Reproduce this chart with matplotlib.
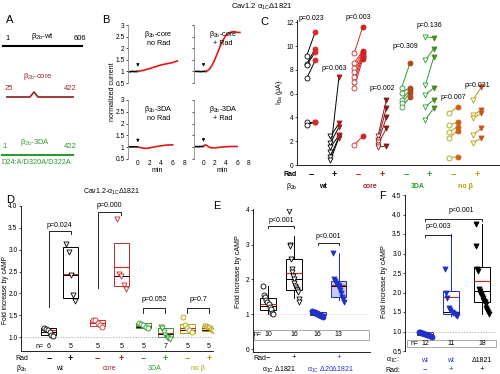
import numpy as np
import matplotlib
matplotlib.use("Agg")
import matplotlib.pyplot as plt
import matplotlib.transforms as mtransforms
from matplotlib.patches import Rectangle

plt.rcParams['font.family'] = ['Liberation Sans', 'DejaVu Sans']
plt.rcParams['mathtext.fontset'] = 'custom'
plt.rcParams['mathtext.rm'] = 'Liberation Sans'
plt.rcParams['mathtext.it'] = 'Liberation Sans'
plt.rcParams['font.size'] = 5
plt.rcParams['axes.linewidth'] = 0.6
plt.rcParams['xtick.major.width'] = 0.5
plt.rcParams['ytick.major.width'] = 0.5
plt.rcParams['xtick.major.size'] = 1.5
plt.rcParams['ytick.major.size'] = 1.5
plt.rcParams['xtick.labelsize'] = 4.8
plt.rcParams['ytick.labelsize'] = 4.8

W, H = 500, 374
B2 = r"$\beta_{2b}$"
MS = 13

# ---------------- data ----------------
# B: normalized current traces (min, normalized I)
b_titles = [B2 + "-core\nno Rad", B2 + "-core\n+ Rad", B2 + "-3DA\nno Rad", B2 + "-3DA\n+ Rad"]
b_base_t = [[-1.5, -1, -0.5, 0], [-1.5, -1, -0.5, 0, 0.5], [-1.5, -1, -0.5, 0], [-1.5, -1, -0.5, 0]]
b_base_i = [[0.98, 1.0, 0.99, 1.0], [1.0, 1.0, 0.99, 1.0, 1.0], [1.02, 1.01, 1.02, 1.01], [1.03, 1.02, 1.03, 1.03]]
b_red_t = [[0, 1, 2, 3, 4, 5, 6, 6.8],
           [0.5, 1, 1.5, 2, 2.5, 3, 3.5, 4, 4.5, 5, 5.5, 6, 6.5],
           [0, 0.5, 1, 1.5, 2, 3, 4, 5, 6],
           [0, 0.3, 0.6, 1, 1.5, 2, 3, 4, 5, 6]]
b_red_i = [[1.0, 1.05, 1.12, 1.2, 1.28, 1.33, 1.38, 1.45],
           [1.0, 1.08, 1.25, 1.5, 1.8, 2.1, 2.35, 2.55, 2.65, 2.7, 2.72, 2.68, 2.68],
           [1.01, 0.98, 0.96, 0.95, 0.97, 1.02, 1.06, 1.09, 1.1],
           [1.05, 1.1, 1.07, 1.0, 0.97, 0.97, 1.0, 1.02, 1.03, 1.03]]

# C: I_Ba before (open) and after (filled) for each group
c_before = [[9.2, 8.5, 8.4, 7.3, 3.6, 3.4],
            [1.1, 2.4, 1.85, 1.5, 0.7, 0.4],
            [9.4, 8.6, 8.2, 7.8, 7.4, 7.0, 6.5, 1.7],
            [2.4, 2.1, 1.9, 1.7, 1.5],
            [6.5, 6.1, 5.5, 5.2, 4.9],
            [10.8, 8.8, 6.7, 5.9, 4.9, 3.8],
            [4.35, 3.35, 2.8, 2.25, 0.6],
            [5.45, 4.2, 3.95, 2.5, 1.85]]
c_after = [[11.2, 9.8, 9.5, 8.8, 3.6, 3.6],
           [7.4, 3.5, 3.2, 2.5, 2.4, 2.3],
           [11.6, 9.6, 9.5, 9.3, 9.2, 9.1, 8.9, 2.4],
           [5.5, 4.8, 4.0, 3.1, 1.6],
           [8.6, 6.5, 6.3, 6.1, 5.7],
           [10.7, 9.8, 9.1, 6.5, 5.5, 4.8],
           [4.9, 3.6, 3.2, 2.9, 0.7],
           [6.55, 4.6, 4.35, 3.1, 2.25]]
c_pvals = ["p=0.023", "p=0.063", "p=0.003", "p=0.002", "p=0.309", "p=0.136", "p=0.007", "p=0.031"]
c_rad = ["\u2212", "+", "\u2212", "+", "\u2212", "+", "\u2212", "+"]
c_beta = ["wt", "core", "3DA", "no \u03b2"]

# D: fold increase by cAMP, Cav1.2-a1C d1821
d_pts = [[1.2, 1.19, 1.17, 1.12, 1.05, 1.02],
         [3.12, 2.95, 2.42, 1.96, 1.82],
         [1.4, 1.39, 1.33, 1.27, 1.24],
         [3.7, 2.45, 2.4, 2.2, 2.1],
         [1.33, 1.3, 1.27, 1.22, 1.2],
         [1.22, 1.2, 1.12, 1.05, 1.0, 0.97, 0.95],
         [1.45, 1.28, 1.2, 1.15, 1.12],
         [1.25, 1.22, 1.2, 1.16, 1.13]]
d_q1 = [1.05, 1.9, 1.25, 2.17, 1.2, 1.0, 1.1, 1.13]
d_med = [1.12, 2.42, 1.32, 2.4, 1.22, 1.08, 1.17, 1.17]
d_mean = [1.15, 2.45, 1.33, 2.6, 1.26, 1.1, 1.2, 1.2]
d_q3 = [1.2, 3.05, 1.38, 3.15, 1.33, 1.2, 1.3, 1.25]
d_n = ["6", "5", "5", "5", "5", "7", "5", "5"]
d_pvals = ["p=0.024", "p=0.000", "p=0.052", "p=0.7"]

# E
e_pts = [[1.82, 1.55, 1.5, 1.42, 1.35, 1.3, 1.2, 1.15, 1.05, 1.0],
         [3.95, 3.0, 2.95, 2.6, 2.3, 2.2, 2.1, 2.0, 1.9, 1.8, 1.75, 1.7, 1.7, 1.65, 1.45, 1.35],
         [1.1, 1.08, 1.07, 1.06, 1.05, 1.04, 1.03, 1.02, 1.01, 1.0, 0.99, 0.98, 0.97, 0.96, 0.95, 0.93],
         [2.75, 2.0, 1.95, 1.9, 1.88, 1.85, 1.8, 1.75, 1.7, 1.6, 1.5, 1.45, 1.35]]
e_q1 = [1.11, 1.69, 0.98, 1.5]
e_med = [1.25, 2.0, 1.02, 1.8]
e_mean = [1.3, 2.18, 1.02, 1.85]
e_q3 = [1.46, 2.6, 1.06, 1.97]
e_wlo = [1.0, 1.46, 0.93, 1.4]
e_whi = [1.82, 3.26, 1.1, 2.75]
e_n = ["10", "16", "16", "13"]

# F
f_pts = [[1.0, 0.98, 0.97, 0.96, 0.95, 0.94, 0.93, 0.92, 0.91, 0.9, 0.88, 0.86],
         [2.6, 2.0, 1.85, 1.6, 1.55, 1.5, 1.48, 1.45, 1.42, 1.4],
         [3.75, 3.2, 2.6, 2.55, 2.1, 2.05, 2.0, 1.95, 1.9, 1.85, 1.8, 1.78, 1.75, 1.7, 1.6, 1.55, 1.5, 1.45]]
f_q1 = [0.9, 1.45, 1.75]
f_med = [0.94, 1.5, 2.05]
f_mean = [0.94, 1.88, 2.3]
f_q3 = [0.98, 2.05, 2.65]
f_wlo = [0.86, 1.4, 1.45]
f_whi = [1.0, 3.5, 3.75]
f_n = ["12", "11", "18"]
f_a1c = ["wt", "wt", "\u03941821"]
f_rad = ["\u2212", "+", "+"]

# ---------------- helpers ----------------
fig = plt.figure(figsize=(5, 3.74), dpi=100)


def ax_px(x0, y0, x1, y1):
    return fig.add_axes([x0 / W, 1 - y1 / H, (x1 - x0) / W, (y1 - y0) / H])


def ftext(x, y, s, **kw):
    kw.setdefault('ha', 'center')
    kw.setdefault('va', 'center')
    return fig.text(x / W, 1 - y / H, s, **kw)


def xfig(ax):
    # x in data, y in figure pixels from top
    return mtransforms.blended_transform_factory(ax.transData, fig.transFigure)


def fy(y):
    return 1 - y / H


def boxes(ax, pos, q1, med, mean, q3, wlo, whi, colors, width, face=None):
    for i, p in enumerate(pos):
        st = [dict(q1=q1[i], med=med[i], mean=mean[i], q3=q3[i], whislo=wlo[i], whishi=whi[i], fliers=[])]
        fc = 'none' if face is None else face[i]
        ax.bxp(st, positions=[p], widths=width, showmeans=True, meanline=True, showcaps=False,
               patch_artist=True,
               boxprops=dict(edgecolor=colors[i], facecolor=fc, linewidth=0.7),
               whiskerprops=dict(color=colors[i], linewidth=0.7),
               medianprops=dict(color='black', linewidth=0.7),
               meanprops=dict(color='#e02020', linewidth=0.8, linestyle='-'))


# ---------------- panel A ----------------
axA = ax_px(0, 20, 110, 175)
axA.set_xlim(0, 110)
axA.set_ylim(175, 20)
axA.axis('off')
axA.plot([3, 82], [46, 46], color='black', lw=1.5)
axA.text(8, 38, "1", ha='center', va='center', fontsize=5.5)
axA.text(80, 38, "606", ha='center', va='center', fontsize=5.5)
axA.text(42, 36, B2 + "-wt", ha='center', va='center', fontsize=5.5)
core_c = '#9b2a2a'
axA.plot([7, 30, 34, 38, 73], [97, 97, 92, 97, 97], color=core_c, lw=1.3)
axA.text(38, 77, B2 + "-core", ha='center', va='center', fontsize=5.5, color=core_c)
axA.text(9, 88, "25", ha='center', va='center', fontsize=5.5, color=core_c)
axA.text(70, 88, "422", ha='center', va='center', fontsize=5.5, color=core_c)
grn = '#2e9a2e'
axA.plot([2, 73], [155, 155], color=grn, lw=1.5)
axA.text(35, 142, B2 + "-3DA", ha='center', va='center', fontsize=5.5, color=grn)
axA.text(5, 147, "1", ha='center', va='center', fontsize=5.5, color=grn)
axA.text(70, 147, "422", ha='center', va='center', fontsize=5.5, color=grn)
axA.text(1, 163, "D24:A/D320A/D322A", ha='left', va='center', fontsize=5.3, color=grn)
ftext(10, 20, "A", fontsize=8)

# ---------------- panel B ----------------
ftext(106, 20, "B", fontsize=8)
ftext(262, 7, "Cav1.2 \u03b1$_{1C}$\u03941821", fontsize=5.5)
b_rects = [(128, 25, 186, 83), (194, 25, 250, 83), (128, 100, 186, 159), (194, 100, 250, 159)]
for k, r in enumerate(b_rects):
    ax = ax_px(*r)
    ax.plot(b_base_t[k], b_base_i[k], color='black', lw=1.2)
    ax.plot(b_red_t[k], b_red_i[k], color='#e01818', lw=1.2)
    ax.set_xlim(-1.7, 8.3)
    ax.set_ylim(0.5, 3)
    for s in ['top', 'right', 'bottom']:
        ax.spines[s].set_visible(False)
    ax.spines['left'].set_color('#888888')
    ax.set_yticks([0.5, 1, 1.5, 2, 2.5, 3])
    if k % 2 == 0:
        ax.set_yticklabels(["0.5", "1", "1.5", "2", "2.5", "3"])
    else:
        ax.set_yticklabels([])
    if k >= 2:
        ax.set_xticks([0, 2, 4, 6, 8])
        ax.tick_params(axis='x', length=0, pad=1)
        ax.set_xlabel("min", fontsize=5, labelpad=0)
    else:
        ax.set_xticks([])
    ax.tick_params(axis='y', pad=1)
    ax.text(3.5, 2.45, b_titles[k], ha='center', va='center', fontsize=5.2, linespacing=1.1)
    ax.annotate("", xy=(0, b_base_i[k][-1] + 0.08), xytext=(0, b_base_i[k][-1] + 0.45),
                arrowprops=dict(arrowstyle='-|>', color='black', lw=0.6, mutation_scale=4))
ftext(113, 92, "normalized current", rotation=90, fontsize=5)

# ---------------- panel C ----------------
ftext(264, 22, "C", fontsize=8)
axC = ax_px(297, 20, 500, 165)
c_col_open = ['black', 'black', '#d02828', '#8b1a1a', '#2e9a2e', '#2e9a2e', '#b0a000', '#b0a000']
c_col_fill = ['#e02828', '#a02020', '#d02020', '#8b1a1a', '#b04a20', '#4a8a20', '#d06018', '#d05018']
c_mark = ['o', 'v', 'o', 'v', 'o', 'v', 'o', 'v']
for g in range(8):
    xb = g + 1 - 0.18
    xa = g + 1 + 0.18
    for yb, ya in zip(c_before[g], c_after[g]):
        axC.plot([xb, xa], [yb, ya], color=c_col_open[g], lw=0.7, zorder=1)
    axC.scatter([xb] * len(c_before[g]), c_before[g], marker=c_mark[g], s=MS, facecolors='white',
                edgecolors=c_col_open[g], linewidths=0.6, zorder=3)
    axC.scatter([xa] * len(c_after[g]), c_after[g], marker=c_mark[g], s=MS, facecolors=c_col_fill[g],
                edgecolors=c_col_fill[g], linewidths=0.6, zorder=3)
c_ptxt_y = [12.3, 8.1, 12.4, 6.4, 10.0, 11.7, 5.7, 6.7]
for g in range(8):
    axC.text(g + 1, c_ptxt_y[g], c_pvals[g], ha='center', va='center', fontsize=5)
axC.set_xlim(0.41, 8.97)
axC.set_ylim(0, 12.2)
axC.set_yticks(range(0, 13, 2))
axC.set_xticks([])
axC.spines['top'].set_visible(False)
axC.spines['right'].set_visible(False)
axC.tick_params(axis='y', pad=1)
axC.set_ylabel("I$_{Ba}$ (\u03bcA)", fontsize=5, labelpad=1)
tC = xfig(axC)
c_sign_col = ['black', 'black', '#c02020', '#8b1a1a', '#2e9a2e', '#2e9a2e', '#b0a000', '#b0a000']
for g in range(8):
    axC.text(g + 1, fy(174), c_rad[g], transform=tC, ha='center', va='center', fontsize=6.5,
             fontweight='bold', color=c_sign_col[g])
beta_col = ['black', '#9b2a2a', '#2e9a2e', '#b0a000']
for j in range(4):
    axC.text(2 * j + 1.5, fy(187), c_beta[j], transform=tC, ha='center', va='center', fontsize=5,
             color=beta_col[j], fontweight='bold')
ftext(290, 174, "Rad", fontsize=5, fontweight='bold')
ftext(292, 187, B2, fontsize=5, fontweight='bold')

# ---------------- panel D ----------------
ftext(10, 200, "D", fontsize=8)
ftext(112, 192, "Cav1.2-\u03b1$_{1C}$\u03941821", fontsize=5)
axD = ax_px(21, 206, 213, 351)
d_pos = [1, 2, 3.23, 4.32, 5.32, 6.32, 7.32, 8.32]
d_col = ['black', 'black', '#d03030', '#c02828', '#2e9a2e', '#2e9a2e', '#b0a000', '#b0a000']
d_mk = ['o', 'v', 'o', 'v', 'o', 'v', 'o', 'v']
boxes(axD, d_pos, d_q1, d_med, d_mean, d_q3, d_q1, d_q3, d_col, 0.68)
for i, p in enumerate(d_pos):
    n = len(d_pts[i])
    xs = p + np.linspace(-0.2, 0.2, n)
    axD.scatter(xs, d_pts[i], marker=d_mk[i], s=MS, facecolors='white', edgecolors=d_col[i],
                linewidths=0.6, zorder=4)
axD.axhline(1.0, color='#999999', lw=0.5, ls=(0, (2, 2)))
# brackets
d_br = [(1, 2, 1.69, 3.43, 3.36, 3.56), (3.23, 4.32, 2.12, 3.86, 3.8, 4.02),
        (5.32, 6.32, 1.55, 1.66, 1.55, 1.85), (7.32, 8.32, 1.55, 1.66, 1.55, 1.85)]
for k, (xa, xb, ya, yt, yb, ytx) in enumerate(d_br):
    axD.plot([xa, xa, xb, xb], [ya, yt, yt, yb], color='black', lw=0.6)
    axD.text((xa + xb) / 2, ytx, d_pvals[k], ha='center', va='center', fontsize=5)
for i, p in enumerate(d_pos):
    axD.text(p, 0.79, d_n[i], ha='center', va='center', fontsize=5)
axD.text(0.6, 0.79, "n=", ha='center', va='center', fontsize=5)
axD.set_xlim(-0.27, 8.5)
axD.set_ylim(0.68, 4.0)
axD.set_yticks([1.0, 1.5, 2.0, 2.5, 3.0, 3.5, 4.0])
axD.set_yticklabels(["1.0", "1.5", "2.0", "2.5", "3.0", "3.5", "4.0"])
axD.set_xticks([])
axD.spines['top'].set_visible(False)
axD.spines['right'].set_visible(False)
axD.tick_params(axis='y', pad=1)
ftext(6, 290, "Fold increase by cAMP", rotation=90, fontsize=4.8)
tD = xfig(axD)
for i, p in enumerate(d_pos):
    axD.text(p, fy(358), c_rad[i], transform=tD, ha='center', va='center', fontsize=6.5,
             fontweight='bold', color=c_sign_col[i])
for j in range(4):
    axD.text((d_pos[2 * j] + d_pos[2 * j + 1]) / 2, fy(369), c_beta[j], transform=tD, ha='center',
             va='center', fontsize=5, color=beta_col[j])
ftext(22, 358, "Rad", fontsize=5)
ftext(22, 369, B2, fontsize=5)

# ---------------- panel E ----------------
ftext(217, 206, "E", fontsize=8)
axE = ax_px(253, 209, 370, 352)
e_pos = [1, 2, 2.9, 3.7]
e_col = ['black', 'black', '#2030c0', '#2030c0']
e_face = ['white', 'white', '#c8c8f0', '#c8c8f0']
boxes(axE, e_pos, e_q1, e_med, e_mean, e_q3, e_wlo, e_whi, e_col, 0.6, face=e_face)
e_mk = ['o', 'v', 'o', 'v']
e_fc = ['white', 'white', '#2030c0', '#2030c0']
for i, p in enumerate(e_pos):
    n = len(e_pts[i])
    xs = p + np.linspace(-0.2, 0.2, n)
    axE.scatter(xs, e_pts[i], marker=e_mk[i], s=MS, facecolors=e_fc[i], edgecolors=e_col[i],
                linewidths=0.6, zorder=4)
axE.axhline(1.0, color='#cccccc', lw=0.5, ls=(0, (1, 1)))
axE.plot([1, 1, 2, 2], [3.48, 3.54, 3.54, 3.48], color='black', lw=0.6)
axE.text(1.5, 3.7, "p<0.001", ha='center', va='center', fontsize=5)
axE.plot([2.9, 2.9, 3.7, 3.7], [2.99, 3.05, 3.05, 2.99], color='black', lw=0.6)
axE.text(3.3, 3.22, "p<0.001", ha='center', va='center', fontsize=5)
axE.add_patch(Rectangle((0.45, 0.27), 4.4, 0.28, facecolor='none', edgecolor='#888888', lw=0.5))
for i, p in enumerate(e_pos):
    axE.text(p, 0.41, e_n[i], ha='center', va='center', fontsize=5)
axE.text(0.62, 0.41, "n=", ha='center', va='center', fontsize=5)
axE.set_xlim(0.43, 4.9)
axE.set_ylim(-0.08, 4.02)
axE.set_yticks([0, 1, 2, 3, 4])
axE.set_xticks([])
axE.spines['top'].set_visible(False)
axE.spines['right'].set_visible(False)
axE.tick_params(axis='y', pad=1)
ftext(238, 272, "Fold increase by cAMP", rotation=90, fontsize=5)
tE = xfig(axE)
axE.text(e_pos[0], fy(358), "\u2212", transform=tE, ha='center', va='center', fontsize=5.5)
axE.text(e_pos[1], fy(358), "+", transform=tE, ha='center', va='center', fontsize=5.5)
axE.text(e_pos[3], fy(358), "+", transform=tE, ha='center', va='center', fontsize=5.5, color='#2030c0')
ftext(260, 358, "Rad", fontsize=5)
axE.text(1.45, fy(370), "\u03b1$_{1C}$ \u03941821", transform=tE, ha='center', va='center', fontsize=5)
axE.text(3.4, fy(370), "\u03b1$_{1C}$ \u039420\u03941821", transform=tE, ha='center', va='center',
         fontsize=5, color='#2030c0')

# ---------------- panel F ----------------
ftext(382, 196, "F", fontsize=8)
axF = ax_px(405, 195, 497, 351)
f_pos = [1, 2, 3.2]
f_col = ['#2030c0', '#2030c0', 'black']
boxes(axF, f_pos, f_q1, f_med, f_mean, f_q3, f_wlo, f_whi, f_col, 0.6)
f_mk = ['o', 'v', 'v']
for i, p in enumerate(f_pos):
    n = len(f_pts[i])
    xs = p + np.linspace(-0.25, 0.25, n)
    axF.scatter(xs, f_pts[i], marker=f_mk[i], s=MS, facecolors=f_col[i], edgecolors=f_col[i],
                linewidths=0.6, zorder=4)
axF.axhline(1.0, color='#999999', lw=0.5, ls=(0, (2, 2)))
axF.plot([1, 1, 2, 2], [3.42, 3.47, 3.47, 3.42], color='black', lw=0.6)
axF.text(1.5, 3.7, "p=0.003", ha='center', va='center', fontsize=5)
axF.plot([1, 1, 3.2, 3.2], [3.83, 3.88, 3.88, 3.83], color='black', lw=0.6)
axF.text(2.4, 4.1, "p<0.001", ha='center', va='center', fontsize=5)
axF.add_patch(Rectangle((0.3, 0.6), 3.45, 0.19, facecolor='none', edgecolor='#888888', lw=0.5))
for i, p in enumerate(f_pos):
    axF.text(p, 0.69, f_n[i], ha='center', va='center', fontsize=5)
axF.text(0.6, 0.69, "n=", ha='center', va='center', fontsize=5)
axF.set_xlim(0.23, 3.77)
axF.set_ylim(0.5, 4.5)
axF.set_yticks([0.5, 1.0, 1.5, 2.0, 2.5, 3.0, 3.5, 4.0, 4.5])
axF.set_xticks([])
for s in ['top', 'right', 'bottom']:
    axF.spines[s].set_visible(False)
axF.tick_params(axis='y', pad=1)
ftext(385, 282, "Fold increase by cAMP", rotation=90, fontsize=5)
tF = xfig(axF)
for i, p in enumerate(f_pos):
    axF.text(p, fy(360), f_a1c[i], transform=tF, ha='center', va='center', fontsize=5, color=f_col[i])
    axF.text(p, fy(370), f_rad[i], transform=tF, ha='center', va='center', fontsize=5.5, color=f_col[i])
ftext(393, 360, "\u03b1$_{1C}$:", fontsize=5)
ftext(393, 370, "Rad:", fontsize=5)

fig.savefig("out.png", dpi=100)
